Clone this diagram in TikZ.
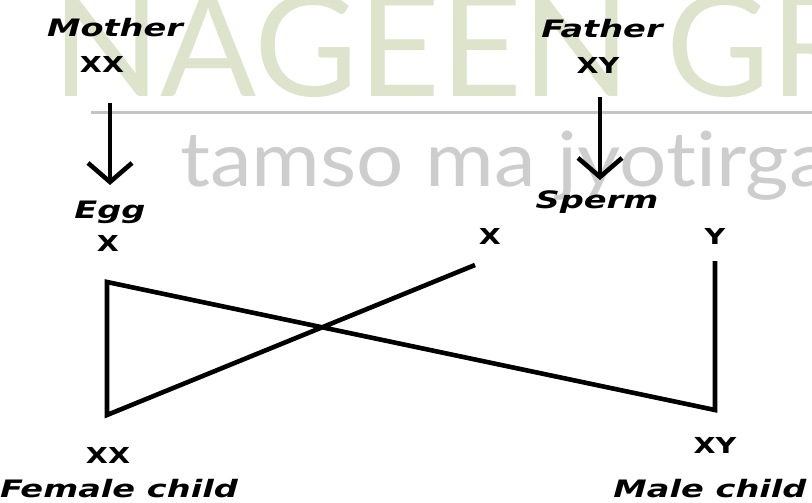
\documentclass[tikz,border=0pt]{standalone}
\usepackage{fontspec}
\usetikzlibrary{arrows.meta}
\newfontfamily\labfont{DejaVu Sans}
\newfontfamily\wmfont{Lato}[Ligatures=NoCommon]
\definecolor{wmgreen}{RGB}{222,227,204}
\definecolor{wmgray}{RGB}{205,205,205}
\definecolor{wmline}{RGB}{196,196,196}
\begin{document}
\begin{tikzpicture}[x=1pt,y=-1pt,
  ital/.style={font=\labfont\fontsize{24}{24}\selectfont\bfseries\itshape, xscale=1.4, inner sep=0pt, anchor=base},
  chrom/.style={font=\labfont\fontsize{22}{22}\selectfont\bfseries, xscale=1.3, inner sep=0pt, anchor=base},
  link/.style={line width=4.6pt, line join=miter, line cap=butt},
  down/.style={line width=4.6pt, -{Straight Barb[length=19pt,width=44pt,line width=4.6pt]}}
]
\useasboundingbox (0,0) rectangle (812,503);
% watermark
\node[anchor=base west, inner sep=0pt, text=wmgreen, font=\wmfont\fontsize{142}{142}\selectfont] (wm1) at (52,97) {NAGEEN GR};
\draw[wmline, line width=3pt] (91,113) -- (812,113);
\node[anchor=base west, inner sep=0pt, xscale=1.1, text=wmgray, font=\wmfont\fontsize{76}{76}\selectfont] (wm2) at (180,186) {tamso ma jyotirga};
% labels
\node[ital] (mother) at (115,37) {Mother};
\node[chrom] (mxx) at (102,73) {XX};
\node[ital] (egg) at (110,218) {Egg};
\node[chrom] (ex) at (108,251) {X};
\node[ital] (father) at (602,38) {Father};
\node[chrom] (fxy) at (598,74) {XY};
\node[ital] (sperm) at (597,208) {Sperm};
\node[chrom] (sx) at (490,244) {X};
\node[chrom] (sy) at (715,244) {Y};
\node[chrom] (fxx) at (108,463) {XX};
\node[ital] (female) at (119,497) {Female child};
\node[chrom] (mxy) at (715,453) {XY};
\node[ital] (male) at (710,497) {Male child};
% arrows
\coordinate (a1) at (110,103);
\coordinate (a2) at (110,185);
\coordinate (b1) at (600,97);
\coordinate (b2) at (600,180);
\draw[down] (a1) -- (a2);
\draw[down] (b1) -- (b2);
% crossing lines
\coordinate (A) at (107,282);
\coordinate (B) at (107,415);
\coordinate (C) at (715,410);
\coordinate (D) at (475,265);
\coordinate (E) at (715,261);
\draw[link] (D) -- (B) -- (A) -- (C) -- (E);
\end{tikzpicture}
\end{document}
